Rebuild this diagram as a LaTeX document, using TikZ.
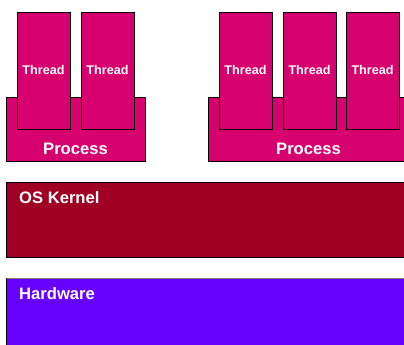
\documentclass[tikz,border=0pt]{standalone}
\usepackage{fontspec}
\setmainfont{Liberation Sans}
\definecolor{threadc}{RGB}{214,0,111}
\definecolor{kernelc}{RGB}{160,0,36}
\definecolor{hwc}{RGB}{102,0,255}
\begin{document}
\begin{tikzpicture}[x=1pt,y=-1pt,
  box/.style={draw=black,line width=0.9pt,inner sep=0pt,outer sep=0pt,anchor=north west},
  lbl/.style={text=white,font=\bfseries,inner sep=0pt}]
\useasboundingbox (0,0) rectangle (404,345);
\clip (0,0) rectangle (404,345);
% processes
\node[box,fill=threadc,minimum width=139pt,minimum height=64pt] (p1) at (6,97) {};
\node[box,fill=threadc,minimum width=200pt,minimum height=64pt] (p2) at (208,97) {};
% threads
\foreach \n/\x in {t1/17,t2/81,t3/219,t4/283,t5/346}{
  \node[box,fill=threadc,minimum width=53pt,minimum height=117pt] (\n) at (\x,12) {};
  \node[lbl,font=\bfseries\fontsize{12.6}{14}\selectfont] (\n l) at ([yshift=-58pt]\n.north) {Thread};
}
\node[lbl,font=\bfseries\fontsize{16.6}{19}\selectfont] (p1l) at (75.5,149) {Process};
\node[lbl,font=\bfseries\fontsize{16.6}{19}\selectfont] (p2l) at (308.5,149) {Process};
% kernel
\node[box,fill=kernelc,minimum width=402pt,minimum height=75pt] (k) at (6,182) {};
\node[lbl,anchor=west,font=\bfseries\fontsize{16.6}{19}\selectfont] (kl) at (19,198) {OS Kernel};
% hardware
\node[box,fill=hwc,draw=gray,minimum width=402pt,minimum height=75pt] (h) at (6,278) {};
\draw[black,line width=0.9pt] (h.north west) -- (h.south west);
\node[lbl,anchor=west,font=\bfseries\fontsize{16.6}{19}\selectfont] (hl) at (19,294) {Hardware};
\end{tikzpicture}
\end{document}
